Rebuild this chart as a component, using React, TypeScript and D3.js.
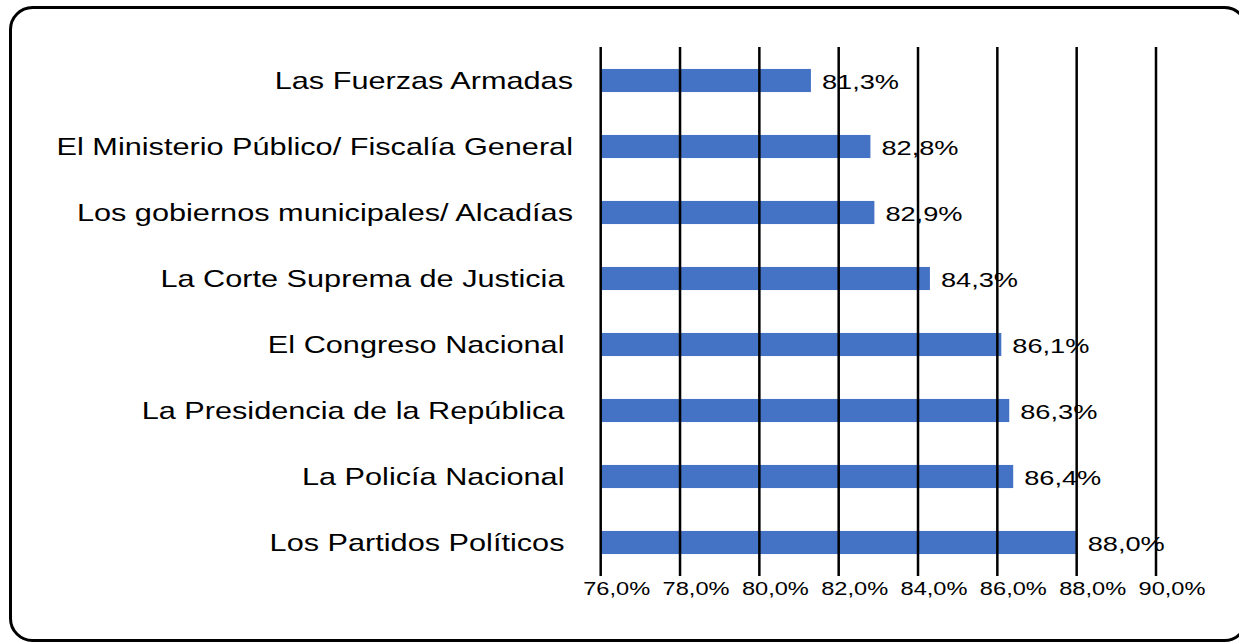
import React from "react";
import * as d3 from "d3";

const categories = [
  "Las Fuerzas Armadas",
  "El Ministerio Público/ Fiscalía General",
  "Los gobiernos municipales/ Alcadías",
  "La Corte Suprema de Justicia ",
  "El Congreso Nacional ",
  "La Presidencia de la República ",
  "La Policía Nacional ",
  "Los Partidos Políticos ",
];
const values = [81.3, 82.8, 82.9, 84.3, 86.1, 86.3, 86.4, 88.0];
const tickValues = [76, 78, 80, 82, 84, 86, 88, 90];

const W = 1239;
const H = 642;
const fmt = (v: number) => v.toFixed(1).replace(".", ",") + "%";
const FONT = "'Liberation Sans', Arial, sans-serif";
const SX = 1.3;

export default function App() {
  const x = d3.scaleLinear().domain([76, 90]).range([600.7, 1156]);
  const y = d3
    .scaleBand<string>()
    .domain(categories)
    .range([47.5, 575.5])
    .paddingInner(0.65)
    .paddingOuter(0.325);
  const bw = y.bandwidth();

  return (
    <svg
      width={W}
      height={H}
      style={{ position: "absolute", left: 0, top: 0, background: "#fff" }}
    >
      <rect
        x={10.5}
        y={7.5}
        width={1236}
        height={633}
        rx={22}
        ry={22}
        fill="#fff"
        stroke="#000"
        strokeWidth={3}
      />
      {categories.map((c, i) => (
        <rect
          key={"b" + i}
          x={x(76)}
          y={y(c)!}
          width={x(values[i]) - x(76)}
          height={bw}
          fill="#4472C4"
        />
      ))}
      {tickValues.map((t) => (
        <line
          key={"g" + t}
          x1={x(t)}
          x2={x(t)}
          y1={47}
          y2={576}
          stroke="#000"
          strokeWidth={2.5}
        />
      ))}
      {categories.map((c, i) => {
        const cy = y(c)! + bw / 2;
        return (
          <g key={"l" + i} transform={`translate(573,${cy + 8.5}) scale(${SX},1)`}>
            <text
              textAnchor="end"
              fontFamily={FONT}
              fontSize={23.6}
              fill="#000"
              style={{ whiteSpace: "pre" }}
            >
              {c}
            </text>
          </g>
        );
      })}
      {categories.map((c, i) => {
        const cy = y(c)! + bw / 2;
        return (
          <g
            key={"v" + i}
            transform={`translate(${x(values[i]) + 11},${cy + 8.5}) scale(1.36,1)`}
          >
            <text fontFamily={FONT} fontSize={20} fill="#000">
              {fmt(values[i])}
            </text>
          </g>
        );
      })}
      {tickValues.map((t) => (
        <g key={"t" + t} transform={`translate(${x(t) + 16},595) scale(1.27,1)`}>
          <text textAnchor="middle" fontFamily={FONT} fontSize={18.6} fill="#000">
            {fmt(t)}
          </text>
        </g>
      ))}
    </svg>
  );
}
